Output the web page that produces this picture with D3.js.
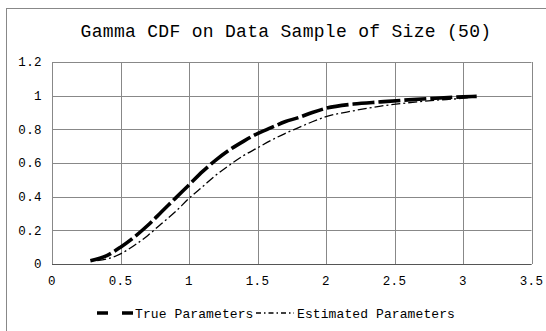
<!DOCTYPE html>
<html>
<head>
<meta charset="utf-8" />
<script src="https://cdn.jsdelivr.net/npm/d3@7/dist/d3.min.js"></script>
<style>
  body { margin: 0; background: #fff; }
  svg { font-family: "Liberation Mono", "Courier New", monospace; }
  .grid line { stroke: #888; stroke-width: 1px; }
</style>
</head>
<body>
<svg width="546" height="331"></svg>
<script>
var title = 'Gamma CDF on Data Sample of Size (50)';
var xTicks = [0, 0.5, 1, 1.5, 2, 2.5, 3, 3.5];
var yTicks = [0, 0.2, 0.4, 0.6, 0.8, 1, 1.2];

var trueX = [0.28, 0.4, 0.5, 0.6, 0.7, 0.8, 0.9, 1.0, 1.1, 1.2, 1.3, 1.4, 1.5, 1.6, 1.7, 1.8, 1.9, 2.0, 2.2, 2.4, 2.6, 2.8, 3.0, 3.1];
var trueY = [0.02, 0.05, 0.10, 0.16, 0.23, 0.31, 0.39, 0.47, 0.55, 0.62, 0.68, 0.73, 0.775, 0.81, 0.845, 0.87, 0.9, 0.925, 0.95, 0.963, 0.975, 0.985, 0.993, 0.996];
var estX = [0.33, 0.4, 0.5, 0.6, 0.7, 0.8, 0.9, 1.0, 1.1, 1.2, 1.3, 1.4, 1.5, 1.6, 1.7, 1.8, 1.9, 2.0, 2.2, 2.4, 2.6, 2.8, 3.0, 3.05];
var estY = [0.02, 0.03, 0.06, 0.11, 0.17, 0.24, 0.31, 0.39, 0.46, 0.53, 0.59, 0.645, 0.69, 0.735, 0.775, 0.81, 0.845, 0.875, 0.91, 0.938, 0.958, 0.973, 0.985, 0.99];
var seriesNames = ['True Parameters', 'Estimated Parameters'];

var svg = d3.select('svg');

// outer frame (runs off the right and bottom edge)
svg.append('rect')
  .attr('x', 6.5).attr('y', 8.5)
  .attr('width', 600).attr('height', 400)
  .attr('fill', 'none').attr('stroke', '#888');

var x = d3.scaleLinear().domain([0, 3.5]).range([52, 531.5]);
var y = d3.scaleLinear().domain([0, 1.2]).range([264, 62]);

var grid = svg.append('g').attr('class', 'grid');
grid.selectAll('.vx').data(xTicks).enter().append('line')
  .attr('x1', function (d) { return Math.round(x(d)) + 0.5; })
  .attr('x2', function (d) { return Math.round(x(d)) + 0.5; })
  .attr('y1', y(1.2)).attr('y2', y(0));
grid.selectAll('.hy').data(yTicks).enter().append('line')
  .attr('y1', function (d) { return Math.round(y(d)) + 0.5; })
  .attr('y2', function (d) { return Math.round(y(d)) + 0.5; })
  .attr('x1', x(0)).attr('x2', x(3.5));

// bottom axis line a bit darker
svg.append('line')
  .attr('x1', x(0)).attr('x2', x(3.5))
  .attr('y1', Math.round(y(0)) + 0.5).attr('y2', Math.round(y(0)) + 0.5)
  .attr('stroke', '#555');

svg.append('g').selectAll('text').data(xTicks).enter().append('text')
  .attr('x', function (d) { return x(d); })
  .attr('y', 285)
  .attr('text-anchor', 'middle')
  .attr('font-size', 12.5).attr('letter-spacing', 0.4)
  .text(function (d) { return d; });

svg.append('g').selectAll('text').data(yTicks).enter().append('text')
  .attr('x', 42)
  .attr('y', function (d) { return y(d); })
  .attr('dy', '0.35em')
  .attr('text-anchor', 'end')
  .attr('font-size', 12.5).attr('letter-spacing', 0.4)
  .text(function (d) { return d; });

svg.append('text')
  .attr('x', 286).attr('y', 37)
  .attr('text-anchor', 'middle')
  .attr('font-size', 18).attr('letter-spacing', 0.3)
  .text(title);

var line = d3.line()
  .x(function (d) { return x(d[0]); })
  .y(function (d) { return y(d[1]); })
  .curve(d3.curveMonotoneX);

svg.append('path')
  .datum(d3.zip(estX, estY))
  .attr('d', line)
  .attr('fill', 'none').attr('stroke', '#000')
  .attr('stroke-width', 1.3)
  .attr('stroke-dasharray', '9,3,2,3');

svg.append('path')
  .datum(d3.zip(trueX, trueY))
  .attr('d', line)
  .attr('fill', 'none').attr('stroke', '#000')
  .attr('stroke-width', 3.6)
  .attr('stroke-dasharray', '22,4');

// legend
var lg = svg.append('g');
lg.append('line').attr('x1', 97).attr('x2', 134).attr('y1', 313).attr('y2', 313)
  .attr('stroke', '#000').attr('stroke-width', 3.6).attr('stroke-dasharray', '11,14');
lg.append('text').attr('x', 135).attr('y', 313).attr('dy', '0.35em')
  .attr('font-size', 13).attr('letter-spacing', 0.1).text(seriesNames[0]);
lg.append('line').attr('x1', 256).attr('x2', 294).attr('y1', 313).attr('y2', 313)
  .attr('stroke', '#000').attr('stroke-width', 1.3).attr('stroke-dasharray', '5,3,1.5,3');
lg.append('text').attr('x', 297).attr('y', 313).attr('dy', '0.35em')
  .attr('font-size', 13).attr('letter-spacing', 0.1).text(seriesNames[1]);
</script>
</body>
</html>
